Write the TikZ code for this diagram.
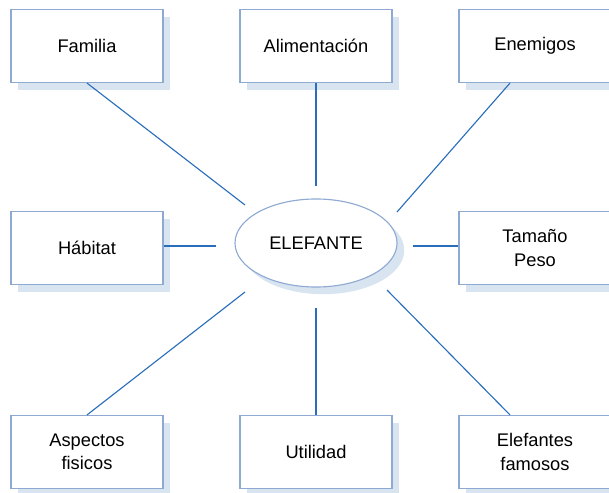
\documentclass[tikz,border=0pt]{standalone}
\usepackage{fontspec}
\setmainfont{Liberation Sans}
\usetikzlibrary{shapes.geometric}
\usetikzlibrary{shadows}
\definecolor{dFrame}{HTML}{8EAAD3}
\definecolor{dShade}{HTML}{D9E4F1}
\definecolor{dLink}{HTML}{2A6EBB}
\tikzset{
    topic/.style={
            draw=dFrame,
            fill=white,
            line width=0.8pt,
            minimum width=3.8cm, % 152px
            minimum height=1.825cm, % 73px
            align=center,
            font=\fontsize{13}{16.5}\selectfont,
            drop shadow={shadow xshift=0.18cm, shadow yshift=-0.18cm,
                    fill=dShade, opacity=1}
        },
    hub/.style={
            ellipse,
            draw=dFrame,
            fill=white,
            line width=0.8pt,
            inner sep=0pt,
            minimum width=4.05cm,
            minimum height=2.2cm,
            font=\fontsize{13}{16.5}\selectfont,
            drop shadow={shadow xshift=0.18cm, shadow yshift=-0.18cm,
                    fill=dShade, opacity=1}
        }
}
\tikzset{
    link/.style={
            draw=dLink,
            line width=0.8pt
        }
}
\begin{document}
\begin{tikzpicture}[
        x=0.025cm,
        y=-0.025cm,
    ]
    \useasboundingbox (0,0) rectangle (609,492);
    % centre
    \node[hub] (ele) at (316,243) {ELEFANTE};
    % top row
    \node[topic] (fam) at (87,46) {Familia};
    \node[topic] (ali) at (316,46) {Alimentación};
    \node[topic] (ene) at (535,46) {Enemigos};
    % middle row
    \node[topic] (hab) at (87,248) {Hábitat};
    \node[topic] (tam) at (535,248) {Tamaño\\Peso};
    % bottom row
    \node[topic] (asp) at (87,452) {Aspectos\\fisicos};
    \node[topic] (uti) at (316,452) {Utilidad};
    \node[topic] (efa) at (535,452) {Elefantes\\famosos};
    % free ends round the centre
    \coordinate (famtip) at (245,205);
    \coordinate (alitip) at (316,186);
    \coordinate (enetip) at (397,212);
    \coordinate (habtip) at (216,246);
    \coordinate (tamtip) at (413,246);
    \coordinate (asptip) at (245,292);
    \coordinate (utitip) at (316,308);
    \coordinate (efatip) at (387,290);
    % spokes
    \draw[link] (fam.south) -- (famtip);
    \draw[link] (ali.south) -- (alitip);
    \draw[link] ([xshift=-0.625cm]ene.south) -- (enetip);
    \draw[link] (hab.east |- habtip) -- (habtip);
    \draw[link] (tam.west |- tamtip) -- (tamtip);
    \draw[link] (asp.north) -- (asptip);
    \draw[link] (uti.north) -- (utitip);
    \draw[link] ([xshift=-0.625cm]efa.north) -- (efatip);
\end{tikzpicture}
\end{document}
